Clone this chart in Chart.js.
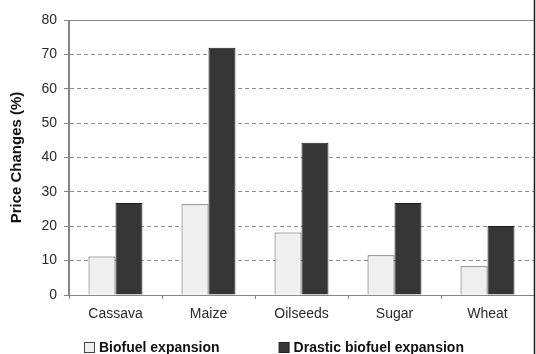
<!DOCTYPE html>
<html>
<head>
<meta charset="utf-8">
<script src="https://cdn.jsdelivr.net/npm/chart.js@4/dist/chart.umd.min.js"></script>
<style>
  html, body { margin: 0; padding: 0; background: #fff; }
  canvas { display: block; }
</style>
</head>
<body>
<canvas id="c" width="536" height="354"></canvas>
<script>
// Commodity price changes under two biofuel scenarios
const crops = ['Cassava', 'Maize', 'Oilseeds', 'Sugar', 'Wheat'];
const biofuelExpansion = [11.2, 26.4, 18.2, 11.6, 8.4];
const drasticExpansion = [26.8, 71.9, 44.3, 26.8, 20.1];
const seriesNames = ['Biofuel expansion', 'Drastic biofuel expansion'];
const yTicks = [0, 10, 20, 30, 40, 50, 60, 70, 80];

const lightFill = '#efefef', lightEdge = '#555555';
const darkFill = '#363636', darkEdge = '#1e1e1e';
const axisGrey = '#858585';
const FONT = "'Liberation Sans', Arial, sans-serif";

// Solid top border, solid axis lines, right frame line and the legend row
const framePlugin = {
  id: 'frameAndLegend',
  afterDraw(chart) {
    const { ctx, chartArea } = chart;
    const L = chartArea.left, R = chartArea.right, T = chartArea.top, B = chartArea.bottom;
    ctx.save();
    ctx.setLineDash([]);
    ctx.lineWidth = 1;
    // top border replaces the dashed line at the maximum
    ctx.strokeStyle = '#ffffff';
    ctx.beginPath();
    ctx.moveTo(L + 1, T + 0.5);
    ctx.lineTo(R, T + 0.5);
    ctx.stroke();
    ctx.strokeStyle = '#8a8a8a';
    ctx.beginPath();
    ctx.moveTo(L, T + 0.5);
    ctx.lineTo(R, T + 0.5);
    ctx.stroke();
    // axis lines
    ctx.strokeStyle = axisGrey;
    ctx.beginPath();
    ctx.moveTo(L - 0.5, T);
    ctx.lineTo(L - 0.5, B + 0.5);
    ctx.lineTo(R, B + 0.5);
    ctx.stroke();

    // right frame line
    ctx.strokeStyle = '#1a1a1a';
    ctx.lineWidth = 1.5;
    ctx.beginPath();
    ctx.moveTo(R + 0.5, 0);
    ctx.lineTo(R + 0.5, chart.height);
    ctx.stroke();

    // legend
    ctx.font = 'bold 14px ' + FONT;
    ctx.textBaseline = 'middle';
    ctx.textAlign = 'left';
    const box = 10, gapText = 4, gapItem = 60;
    const ds = chart.data.datasets;
    const widths = ds.map(d => box + gapText + ctx.measureText(d.label).width);
    const total = widths.reduce((a, b) => a + b, 0) + gapItem * (ds.length - 1);
    let x = Math.round(chart.width / 2 + 5 - total / 2);
    const y = chart.height - 7;
    ds.forEach((d, i) => {
      ctx.fillStyle = d.backgroundColor;
      ctx.fillRect(x + 0.5, y - box / 2 + 0.5, box, box);
      ctx.strokeStyle = i === 0 ? '#444' : '#222';
      ctx.lineWidth = 1;
      ctx.strokeRect(x + 0.5, y - box / 2 + 0.5, box, box);
      ctx.fillStyle = '#111';
      ctx.fillText(d.label, x + box + gapText + 1, y + 1);
      x += widths[i] + gapItem;
    });
    ctx.restore();
  }
};

new Chart(document.getElementById('c'), {
  type: 'bar',
  data: {
    labels: crops,
    datasets: [
      {
        label: seriesNames[0],
        data: biofuelExpansion,
        backgroundColor: lightFill,
        borderColor: lightEdge,
        borderWidth: 1,
        categoryPercentage: 0.58,
        barPercentage: 1.0
      },
      {
        label: seriesNames[1],
        data: drasticExpansion,
        backgroundColor: darkFill,
        borderColor: darkEdge,
        borderWidth: 1,
        categoryPercentage: 0.58,
        barPercentage: 1.0
      }
    ]
  },
  options: {
    responsive: false,
    animation: false,
    events: [],
    layout: { padding: { top: 20, right: 2, bottom: 29, left: 0 } },
    plugins: {
      legend: { display: false },
      tooltip: { enabled: false }
    },
    scales: {
      x: {
        afterFit(scale) { scale.height = 30; },
        border: { display: true, color: axisGrey, width: 1 },
        grid: {
          offset: true,
          drawOnChartArea: false,
          drawTicks: true,
          tickLength: 4,
          tickColor: axisGrey,
          color: axisGrey
        },
        ticks: {
          color: '#2a2a2a',
          padding: 7,
          font: { family: FONT, size: 14 }
        }
      },
      y: {
        min: yTicks[0],
        max: yTicks[yTicks.length - 1],
        afterFit(scale) { scale.width = 69; },
        afterBuildTicks(scale) { scale.ticks = yTicks.map(v => ({ value: v })); },
        border: { display: true, color: axisGrey, width: 1, dash: [4, 3] },
        grid: {
          color: '#8f8f8f',
          borderDash: [4, 3],
          tickBorderDash: [],
          tickColor: axisGrey,
          tickLength: 5,
          lineWidth: 1
        },
        ticks: {
          color: '#2a2a2a',
          padding: 7,
          font: { family: FONT, size: 14 }
        },
        title: {
          display: true,
          text: 'Price Changes (%)',
          color: '#111',
          padding: { top: 8, bottom: 0 },
          font: { family: FONT, size: 15, weight: 'bold' }
        }
      }
    }
  },
  plugins: [framePlugin]
});
</script>
</body>
</html>
